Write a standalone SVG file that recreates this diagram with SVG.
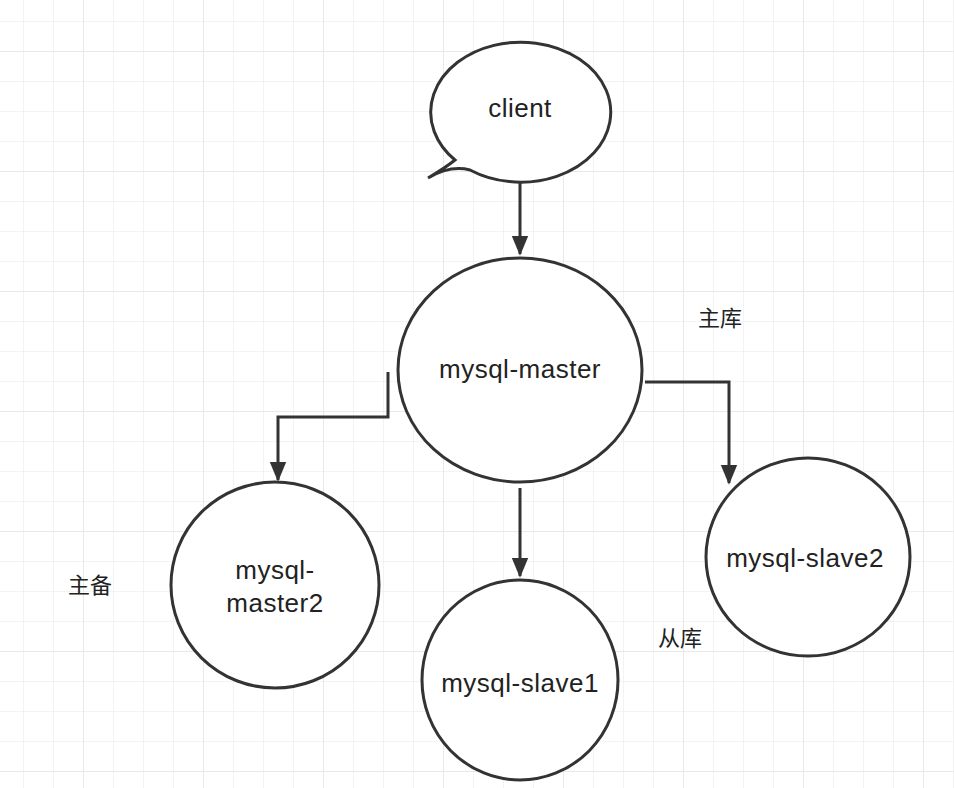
<svg xmlns="http://www.w3.org/2000/svg" width="954" height="788" viewBox="0 0 954 788">
<defs>
<pattern id="minor" x="23" y="21" width="30" height="30" patternUnits="userSpaceOnUse"><path d="M0 0V30M0 0H30" fill="none" stroke="#efefef" stroke-width="1.5"/></pattern>
<pattern id="major" x="83" y="51" width="120" height="120" patternUnits="userSpaceOnUse"><path d="M0 0V120M0 0H120" fill="none" stroke="#e6e6e6" stroke-width="1.5"/></pattern>
<marker id="ah" markerWidth="20" markerHeight="24" refX="22" refY="10" orient="auto" markerUnits="userSpaceOnUse" viewBox="0 0 24 20"><path d="M0 0L24 10L0 20z" fill="#333"/></marker>
<style>
.n{fill:#fff;stroke:#333;stroke-width:3}
.t{font-family:"Liberation Sans",Arial,sans-serif;font-size:26px;fill:#222;text-anchor:middle;letter-spacing:0.5px}
.c{font-family:"Noto Sans CJK SC",sans-serif;font-size:22px;fill:#222;text-anchor:middle}
.e{fill:none;stroke:#333;stroke-width:3}
</style>
</defs>
<rect width="954" height="788" fill="#fff"/>
<rect width="954" height="788" fill="url(#minor)"/>
<rect width="954" height="788" fill="url(#major)"/>
<g id="connectors">
<path class="e" d="M520 180V254" marker-end="url(#ah)"/>
<path class="e" d="M388 372V417H278V480" marker-end="url(#ah)"/>
<path class="e" d="M520 488V576" marker-end="url(#ah)"/>
<path class="e" d="M645 382H729V483" marker-end="url(#ah)"/>
</g>
<g id="client"><path class="n" d="M455 160 A90 70 0 1 1 470 170 Q450 165 428 178 Q445 168 455 160Z"/><text class="t" x="520" y="117">client</text></g>
<g id="master"><ellipse class="n" cx="520" cy="370" rx="122" ry="112"/><text class="t" x="520" y="378">mysql-master</text></g>
<g id="master2"><ellipse class="n" cx="275" cy="585" rx="104" ry="103"/><text class="t" x="275" y="579">mysql-</text><text class="t" x="275" y="612">master2</text></g>
<g id="slave1"><ellipse class="n" cx="520" cy="680" rx="98" ry="100"/><text class="t" x="520" y="692">mysql-slave1</text></g>
<g id="slave2"><ellipse class="n" cx="808" cy="557" rx="102" ry="99"/><text class="t" x="805" y="567">mysql-slave2</text></g>
<g id="labels"><text class="c" x="720" y="326">主库</text><text class="c" x="90" y="593">主备</text><text class="c" x="680" y="646">从库</text></g>
</svg>
